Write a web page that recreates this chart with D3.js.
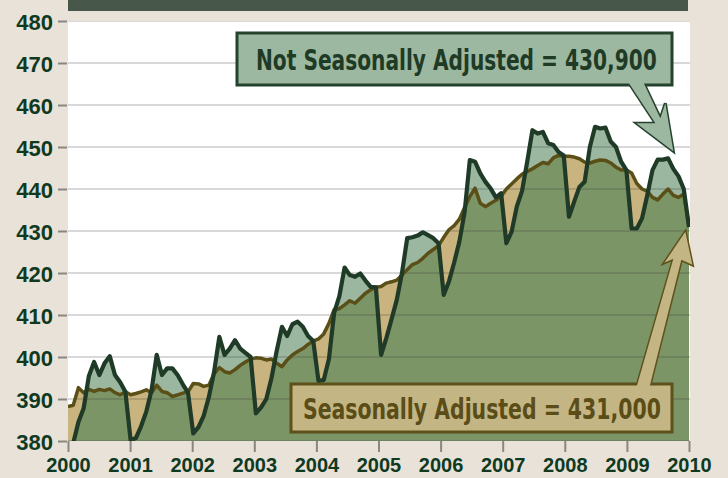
<!DOCTYPE html>
<html>
<head>
<meta charset="utf-8">
<script src="https://cdn.jsdelivr.net/npm/d3@7"></script>
<style>
body { margin: 0; background: #e8e2d9; }
svg { display: block; }
</style>
</head>
<body>
<div id="chart"></div>
<script>
// Data: monthly values, Jan 2000 - Dec 2009 (thousands)
var years = [2000, 2001, 2002, 2003, 2004, 2005, 2006, 2007, 2008, 2009, 2010];
var yTicks = [380, 390, 400, 410, 420, 430, 440, 450, 460, 470, 480];

var nsa = [
    374, 379.5, 384.5, 387.8, 395.5, 398.8, 395.7, 398.5, 400.2, 395.7, 394, 391.7,
    380.2, 380.7, 383.5, 387, 392, 400.5, 395.7, 397.3, 397.3, 395.7, 393.5, 391.5,
    381.8, 383.3, 386, 390.5, 396.5, 404.8, 400.5, 402, 404, 402, 401, 400,
    386.6, 388, 390, 395, 401.5, 407.2, 405, 407.8, 408.4, 407.2, 405, 403.8,
    394.3, 394.5, 399.5, 410.5, 414.5, 421.3, 419.5, 419.1, 419.9, 418.2, 416.7, 416.6,
    400.5, 404.5, 409, 413.6, 420, 428.3, 428.5, 428.9, 429.7, 429, 428.3, 427.1,
    414.8, 418, 422.5, 427.5, 434.5, 446.9, 446.5, 443.7, 441.7, 440.1, 438, 439,
    427.1, 429.8, 435.8, 439.5, 446.5, 454, 453.2, 453.6, 450.9, 450.5, 448.8, 448,
    433.4, 437, 440.5, 441.7, 450, 454.8, 454.4, 454.6, 451.3, 450, 446.5, 444.5,
    430.6, 430.6, 433, 438.5, 444.5, 447, 447, 447.3, 444.8, 443, 440, 430.9
];

var sa = [
    388.2, 388.5, 392.7, 391.5, 392.3, 391.8, 392.3, 392, 392.4, 391.5, 391, 391.7,
    391, 391.3, 391.7, 392.2, 391.5, 393.3, 391.8, 391.5, 390.6, 391, 391.4, 391.7,
    393.7, 393.6, 393, 393.3, 396, 397.5, 396.5, 396.2, 397, 398, 398.8, 399.5,
    399.8, 399.7, 399.3, 399.5, 398.5, 397.7, 399.3, 400.5, 401.3, 402, 403, 403.8,
    404.3, 405.5, 408, 411.3, 411.5, 412.4, 413.4, 412.8, 414, 415.2, 416, 416.6,
    416.8, 417.6, 417.9, 418.3, 419.5, 420.8, 422, 422.5, 423.5, 424.7, 425.6, 426.5,
    428.5, 430.3, 431.3, 432.8, 435.6, 438.2, 440.2, 436.6, 435.8, 436.6, 437.3, 438.3,
    440, 441.2, 442.4, 443.5, 444.2, 444.8, 445.6, 446.3, 446, 447.4, 448, 447.8,
    447.8, 447.6, 447.2, 446.4, 446.2, 446.6, 446.9, 446.8, 446.2, 445.2, 444.5, 444.5,
    443.8, 441.3, 440, 439.5, 438, 437.4, 438.8, 440, 438.5, 438, 438.8, 431
];

var nsaLabel = "Not Seasonally Adjusted = 430,900";
var saLabel = "Seasonally Adjusted = 431,000";

var width = 728, height = 478;
var margin = {top: 21, right: 38, bottom: 37, left: 68};
var plotW = width - margin.left - margin.right;
var plotH = height - margin.top - margin.bottom;
var x0 = margin.left, x1 = margin.left + plotW - 1;
var yBottom = margin.top + plotH;

// Scales
var xYear = d3.scaleLinear().domain([2000, 2010]).range([x0, x1]);
var xIdx = d3.scaleLinear().domain([0, nsa.length - 1]).range([x0, x1]);
var y = d3.scaleLinear().domain([380, 480]).range([yBottom, margin.top]);

var svg = d3.select("#chart").append("svg")
    .attr("width", width)
    .attr("height", height);

svg.append("rect").attr("width", width).attr("height", height).attr("fill", "#e8e2d9");

// header bar
svg.append("rect")
    .attr("x", x0).attr("y", 0)
    .attr("width", 620).attr("height", 11)
    .attr("fill", "#47574a");

// plot background
svg.append("rect")
    .attr("x", margin.left).attr("y", margin.top)
    .attr("width", plotW).attr("height", plotH)
    .attr("fill", "#ffffff");

// Generators
var areaFunc = d3.area()
    .x(function (d, i) { return xIdx(i); })
    .y0(yBottom)
    .y1(function (d) { return y(d); });

var lineFunc = d3.line()
    .x(function (d, i) { return xIdx(i); })
    .y(function (d) { return y(d); });

var defs = svg.append("defs");
defs.append("clipPath").attr("id", "plotClip")
    .append("rect")
    .attr("x", margin.left).attr("y", margin.top)
    .attr("width", plotW).attr("height", plotH);
defs.append("clipPath").attr("id", "saClip")
    .append("path").datum(sa).attr("d", areaFunc);

var plot = svg.append("g").attr("clip-path", "url(#plotClip)");

// NSA above SA -> light green, SA above NSA -> tan, below both -> green
plot.append("path").datum(nsa).attr("d", areaFunc).attr("fill", "#9cb7a0");
plot.append("path").datum(sa).attr("d", areaFunc).attr("fill", "#c9b47f");
plot.append("path").datum(nsa).attr("d", areaFunc)
    .attr("fill", "#7b9566")
    .attr("clip-path", "url(#saClip)");

// gridlines
plot.selectAll(".grid")
    .data(yTicks)
    .enter().append("line")
    .attr("class", "grid")
    .attr("x1", margin.left).attr("x2", margin.left + plotW)
    .attr("y1", function (d) { return y(d); })
    .attr("y2", function (d) { return y(d); })
    .attr("stroke", "#3a3a3a")
    .attr("stroke-opacity", 0.2)
    .attr("stroke-width", 2);

// lines
plot.append("path").datum(sa)
    .attr("d", lineFunc)
    .attr("fill", "none")
    .attr("stroke", "#5b4f18")
    .attr("stroke-width", 3.5)
    .attr("stroke-linejoin", "round");

plot.append("path").datum(nsa)
    .attr("d", lineFunc)
    .attr("fill", "none")
    .attr("stroke", "#1f3b27")
    .attr("stroke-width", 4.2)
    .attr("stroke-linejoin", "round");

// Axes
var axisFont = "'Liberation Sans', Arial, sans-serif";

var yAxis = svg.append("g")
    .attr("transform", "translate(" + (margin.left - 1) + ",0)")
    .call(d3.axisLeft(y).tickValues(yTicks).tickSize(9).tickPadding(5));
yAxis.select(".domain").remove();
yAxis.selectAll("line").attr("stroke", "#8a8680").attr("stroke-width", 2);
yAxis.selectAll("text")
    .attr("fill", "#0f3a1f")
    .attr("dy", "0.4em")
    .style("font-family", axisFont)
    .style("font-weight", "bold")
    .style("font-size", "22px");

var xAxis = svg.append("g")
    .attr("transform", "translate(0," + yBottom + ")")
    .call(d3.axisBottom(xYear).tickValues(years).tickFormat(d3.format("d")).tickSize(11).tickPadding(6));
xAxis.select(".domain").remove();
xAxis.selectAll("line").attr("stroke", "#8a8680").attr("stroke-width", 2);
xAxis.selectAll("text")
    .attr("fill", "#0f3a1f")
    .style("font-family", axisFont)
    .style("font-weight", "bold")
    .style("font-size", "20px");

// Callouts
var labelFont = "'Liberation Sans Narrow', 'DejaVu Sans Condensed', 'Liberation Sans', sans-serif";

function callout(opt) {
    var g = svg.append("g");
    var pts = opt.arrow.map(function (p) { return [opt.tip[0] + p[0], opt.tip[1] + p[1]]; });
    var poly = pts.map(function (p) { return p.join(","); }).join(" ");
    g.append("polygon").attr("points", poly)
        .attr("fill", opt.fill).attr("stroke", opt.stroke)
        .attr("stroke-width", 3).attr("stroke-linejoin", "miter");
    g.append("rect")
        .attr("x", opt.box[0]).attr("y", opt.box[1])
        .attr("width", opt.box[2]).attr("height", opt.box[3])
        .attr("fill", opt.fill).attr("stroke", opt.stroke).attr("stroke-width", 3);
    g.append("polygon").attr("points", poly).attr("fill", opt.fill);
    var t = g.append("text")
        .attr("x", 0).attr("y", 0)
        .attr("fill", opt.color)
        .style("font-family", labelFont)
        .style("font-weight", "bold")
        .style("font-size", "29px")
        .text(opt.label);
    // squeeze horizontally to the condensed width of the original
    var w = t.node().getComputedTextLength();
    t.attr("transform", "translate(" + opt.textX + "," + opt.textY + ") scale(" + (opt.textLen / w) + ",1)");
}

callout({
    tip: [xIdx(116), y(449)],
    arrow: [[-45, -69], [-18, -28], [-37, -28], [0, 0], [-8, -48], [-13, -33], [-30, -69]],
    box: [237, 33, 435, 52],
    fill: "#9db8a1", stroke: "#24422c", color: "#1f3b26",
    textX: 256, textY: 70, textLen: 401,
    label: nsaLabel
});

callout({
    tip: [xIdx(118.3), y(429.8)],
    arrow: [[-49, 156], [-12, 27], [-21, 31], [0, 0], [7, 33], [-4, 28], [-36, 156]],
    box: [291, 384, 381, 48],
    fill: "#c4b585", stroke: "#5e5119", color: "#5a4d17",
    textX: 303, textY: 419, textLen: 358,
    label: saLabel
});
</script>
</body>
</html>
